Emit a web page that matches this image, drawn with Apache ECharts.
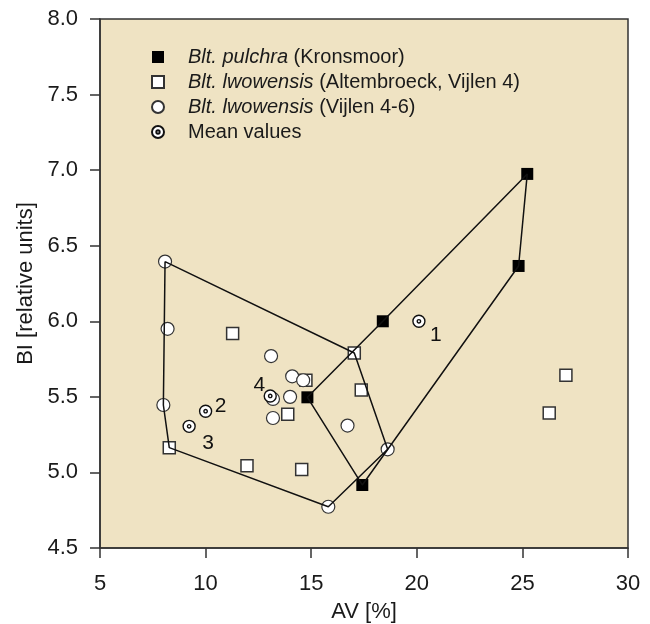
<!DOCTYPE html>
<html><head><meta charset="utf-8">
<script src="https://cdn.jsdelivr.net/npm/echarts@6/dist/echarts.min.js"></script>
<style>html,body{margin:0;padding:0;background:#fff}#c{width:650px;height:624px}</style>
</head><body><div id="c"></div>
<script>
// Data (AV [%], BI [relative units])
const pulchra = [[25.23,6.975],[24.82,6.366],[18.39,6.0],[14.82,5.497],[17.42,4.917]];
const lwowAlt = [[11.28,5.92],[14.75,5.61],[17.04,5.79],[17.37,5.546],[13.89,5.385],[11.96,5.045],[14.55,5.02],[8.28,5.164],[26.27,5.393],[27.06,5.643]];
const lwowVij = [[8.08,6.395],[8.2,5.95],[8.0,5.446],[13.1,5.77],[14.1,5.636],[14.62,5.61],[14.0,5.5],[13.19,5.486],[13.19,5.36],[16.72,5.31],[18.62,5.153],[15.81,4.773]];
const means = [[20.1,6.0],[10.0,5.405],[9.22,5.305],[13.06,5.506]];
const meanLabels = ['1','2','3','4'];
const pulchraHull = [[18.39,6.0],[25.23,6.975],[24.82,6.366],[17.42,4.917],[14.82,5.497],[18.39,6.0]];
const lwowHull = [[8.08,6.395],[17.04,5.79],[18.62,5.153],[15.81,4.773],[8.28,5.164],[8.0,5.446],[8.08,6.395]];
const xTicks = {min:5,max:30,interval:5};
const yTicks = {min:4.5,max:8.0,interval:0.5};
const legendNames = ['pulchra','alt','vij','mean'];
const legendTexts = {
  pulchra:'{i|Blt. pulchra} (Kronsmoor)',
  alt:'{i|Blt. lwowensis} (Altembroeck, Vijlen 4)',
  vij:'{i|Blt. lwowensis} (Vijlen 4-6)',
  mean:'Mean values'
};

const FONT = '"Liberation Sans", Arial, sans-serif';
const meanSymbol = 'path://M0,10 A10,10 0 1,1 20,10 A10,10 0 1,1 0,10 Z M7.2,10 A2.8,2.8 0 1,1 12.8,10 A2.8,2.8 0 1,1 7.2,10 Z';
const labelOffsets = [[17,14],[15,-5],[19,17],[-11,-11]];

const chart = echarts.init(document.getElementById('c'), null, {renderer:'canvas'});
chart.setOption({
  animation:false,
  backgroundColor:'#ffffff',
  grid:{left:100,right:22,top:19,bottom:76,containLabel:false,outerBoundsMode:'none',
    show:true,backgroundColor:'#EFE3C3',borderColor:'#333',borderWidth:1.5},
  legend:{
    orient:'vertical',left:146,top:42,itemWidth:12,itemHeight:12,itemGap:5,
    data:legendNames,
    formatter:n=>legendTexts[n],
    textStyle:{fontFamily:FONT,fontSize:20,lineHeight:20,color:'#1a1a1a',padding:[0,0,0,19],
      rich:{i:{fontFamily:FONT,fontSize:20,lineHeight:20,fontStyle:'italic',color:'#1a1a1a'}}}
  },
  xAxis:{type:'value',min:xTicks.min,max:xTicks.max,interval:xTicks.interval,
    name:'AV [%]',nameLocation:'middle',nameGap:53,
    nameTextStyle:{fontFamily:FONT,fontSize:22,color:'#1a1a1a'},
    axisLine:{show:true,lineStyle:{color:'#333',width:1.5}},
    axisTick:{show:true,inside:false,length:10,lineStyle:{color:'#333',width:1.5}},
    axisLabel:{margin:25,fontFamily:FONT,fontSize:22,color:'#1a1a1a'},
    splitLine:{show:false}},
  yAxis:{type:'value',min:yTicks.min,max:yTicks.max,interval:yTicks.interval,
    name:'BI [relative units]',nameLocation:'middle',nameGap:63,nameRotate:90,
    nameTextStyle:{fontFamily:FONT,fontSize:22,color:'#1a1a1a'},
    axisLine:{show:true,lineStyle:{color:'#333',width:1.5}},
    axisTick:{show:true,inside:false,length:10,lineStyle:{color:'#333',width:1.5}},
    axisLabel:{margin:22,fontFamily:FONT,fontSize:22,color:'#1a1a1a',formatter:v=>v.toFixed(1)},
    splitLine:{show:false}},
  series:[
    {type:'scatter',name:'alt',data:lwowAlt,symbol:'rect',symbolSize:12,z:2,
      itemStyle:{color:'#ffffff',borderColor:'#333',borderWidth:1.5,opacity:1}},
    {type:'scatter',name:'vij',data:lwowVij,symbol:'circle',symbolSize:13,z:2,
      itemStyle:{color:'#ffffff',borderColor:'#333',borderWidth:1.2,opacity:1}},
    {type:'scatter',name:'pulchra',data:pulchra,symbol:'rect',symbolSize:12,z:3,
      itemStyle:{color:'#000000',borderColor:'#000',borderWidth:0,opacity:1}},
    {type:'line',name:'hullP',data:pulchraHull,symbol:'none',z:4,silent:true,
      lineStyle:{color:'#111',width:1.5}},
    {type:'line',name:'hullL',data:lwowHull,symbol:'none',z:4,silent:true,
      lineStyle:{color:'#111',width:1.5}},
    {type:'scatter',name:'mean',symbol:meanSymbol,symbolSize:12,z:5,
      data:means.map((p,i)=>({value:p,label:{show:true,formatter:meanLabels[i],offset:labelOffsets[i],position:'inside'}})),
      itemStyle:{color:'#ffffff',borderColor:'#111',borderWidth:1.4,opacity:1},
      label:{fontFamily:FONT,fontSize:21,color:'#111'}}
  ]
});
</script></body></html>
